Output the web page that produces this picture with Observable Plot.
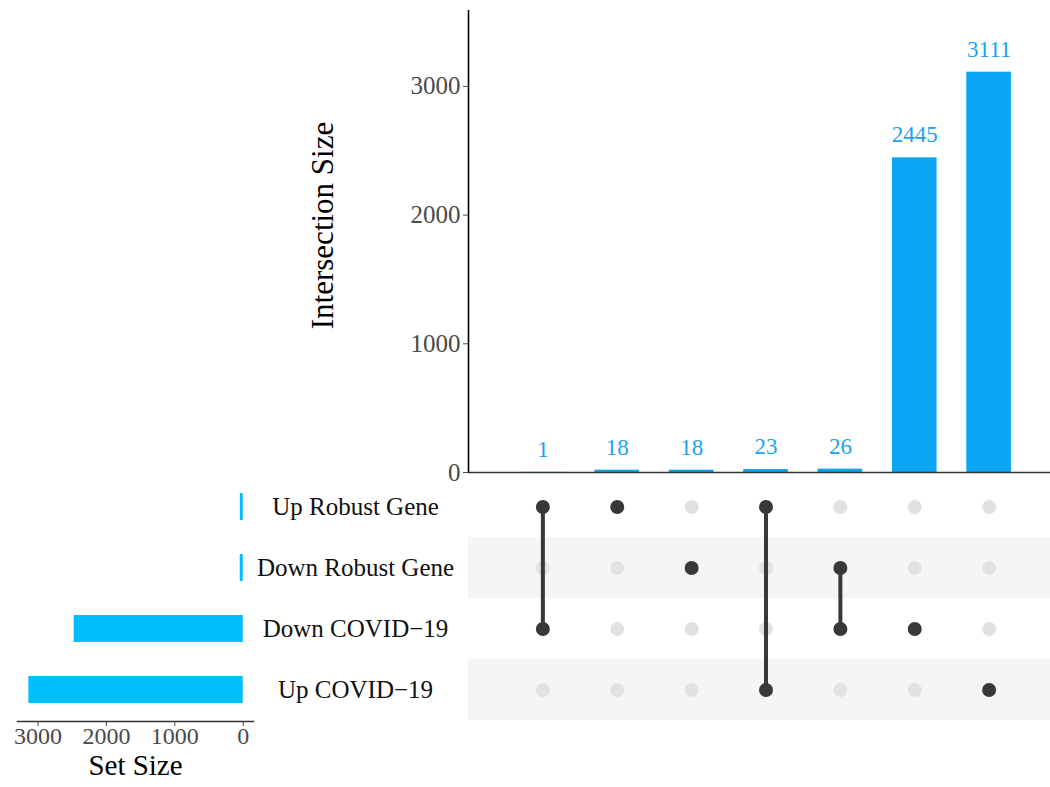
<!DOCTYPE html>
<html>
<head>
<meta charset="utf-8">
<script src="https://cdn.jsdelivr.net/npm/d3@7"></script>
<script src="https://cdn.jsdelivr.net/npm/@observablehq/plot@0.6"></script>
<style>
  html, body { margin: 0; padding: 0; background: #fff; }
  #chart { position: relative; width: 1050px; height: 787px; overflow: hidden; font-family: "Liberation Serif", "DejaVu Serif", serif; }
  #chart > div { position: absolute; }
  #chart svg { max-width: none !important; background: transparent !important; overflow: visible; }
</style>
</head>
<body>
<div id="chart">
  <div id="top"></div>
  <div id="sets"></div>
  <div id="matrix"></div>
</div>
<script>
// ---- data ----
const setNames = ["Up Robust Gene", "Down Robust Gene", "Down COVID\u221219", "Up COVID\u221219"];
const setSizes = [42, 44, 2472, 3134];
const intersectionSizes = [1, 18, 18, 23, 26, 2445, 3111];
const intersectionMembers = [
  ["Up Robust Gene", "Down COVID\u221219"],
  ["Up Robust Gene"],
  ["Down Robust Gene"],
  ["Up Robust Gene", "Up COVID\u221219"],
  ["Down Robust Gene", "Down COVID\u221219"],
  ["Down COVID\u221219"],
  ["Up COVID\u221219"]
];
const intersectionTicks = [0, 1000, 2000, 3000];
const setSizeTicks = [3000, 2000, 1000, 0];
const stripedSets = ["Down Robust Gene", "Up COVID\u221219"];

// ---- derived tables ----
const inter = intersectionSizes.map((size, i) => ({pos: i + 1, size, members: intersectionMembers[i]}));
const cells = inter.flatMap(d => setNames.map(s => ({pos: d.pos, set: s, on: d.members.includes(s)})));
const filled = cells.filter(d => d.on);
const empty = cells.filter(d => !d.on);
const sets = setNames.map((name, i) => ({name, size: setSizes[i]}));
const xDomain = [0, intersectionSizes.length + 1];

const font = "'Liberation Serif', 'DejaVu Serif', serif";
const barBlue = "#0AA6F6";
const labelBlue = "#1BA3F0";
const setBlue = "#00BFFF";
const dark = "#383838";
const fmt = d => String(d);

// ---- top: intersection size bars ----
const topPlot = Plot.plot({
  width: 1063, height: 480,
  marginLeft: 468, marginRight: 0, marginTop: 10, marginBottom: 8,
  style: {fontFamily: font, fontSize: "25px", background: "transparent"},
  x: {domain: xDomain, axis: null},
  y: {domain: [0, 3590], axis: null},
  marks: [
    Plot.rectY(inter, {x1: d => d.pos - 0.3, x2: d => d.pos + 0.3, y: "size", fill: barBlue}),
    Plot.text(inter, {x: "pos", y: "size", text: d => String(d.size), dy: -23, fill: labelBlue, fontSize: 23}),
    Plot.ruleX([0], {stroke: "#000", strokeWidth: 1.6}),
    Plot.ruleY([0], {stroke: "#333", strokeWidth: 1.6}),
    Plot.axisY({ticks: intersectionTicks, tickFormat: fmt, tickSize: 5, tickPadding: 3, fontSize: 25, color: "#4a4a4a", label: null}),
    Plot.text(["Intersection Size"], {text: d => d, frameAnchor: "left", textAnchor: "middle", rotate: -90, dx: -145, dy: -16, fontSize: 31, fill: "#000"})
  ]
});
document.getElementById("top").append(topPlot);
Object.assign(document.getElementById("top").style, {left: "0px", top: "0px"});

// ---- left: set size bars + set names ----
const setPlot = Plot.plot({
  width: 470, height: 313,
  marginLeft: 17, marginRight: 217, marginTop: 0, marginBottom: 66,
  style: {fontFamily: font, fontSize: "25px", background: "transparent"},
  x: {domain: [3300, -150], axis: null},
  y: {type: "band", domain: setNames, padding: 0, axis: null},
  marks: [
    Plot.barX(sets, {y: "name", x: "size", fill: setBlue, insetTop: 17, insetBottom: 17}),
    Plot.frame({anchor: "bottom", stroke: "#333", strokeWidth: 1.6}),
    Plot.axisX({ticks: setSizeTicks, tickFormat: fmt, tickSize: 5, tickPadding: 0, fontSize: 24, color: "#4a4a4a", label: null}),
    Plot.text(["Set Size"], {text: d => d, frameAnchor: "bottom", dy: 53, fontSize: 29, fill: "#000"}),
    Plot.axisY({anchor: "right", tickSize: 0, tickPadding: 0, textAnchor: "middle", dx: 102, fontSize: 25, color: "#111", label: null})
  ]
});
document.getElementById("sets").append(setPlot);
Object.assign(document.getElementById("sets").style, {left: "0px", top: "474px"});

// ---- matrix ----
const matrixPlot = Plot.plot({
  width: 595, height: 247,
  marginLeft: 0, marginRight: 0, marginTop: 0, marginBottom: 0,
  style: {fontFamily: font, fontSize: "25px", background: "transparent"},
  x: {domain: xDomain, axis: null},
  y: {type: "band", domain: setNames, padding: 0, axis: null},
  marks: [
    Plot.barX(stripedSets, {y: d => d, x1: xDomain[0], x2: xDomain[1], fill: "#f5f5f5"}),
    Plot.dot(empty, {x: "pos", y: "set", r: 7, fill: "#e2e2e2"}),
    Plot.line(filled, {x: "pos", y: "set", z: "pos", stroke: dark, strokeWidth: 4}),
    Plot.dot(filled, {x: "pos", y: "set", r: 7, fill: dark})
  ]
});
document.getElementById("matrix").append(matrixPlot);
Object.assign(document.getElementById("matrix").style, {left: "468px", top: "474px"});
</script>
</body>
</html>
